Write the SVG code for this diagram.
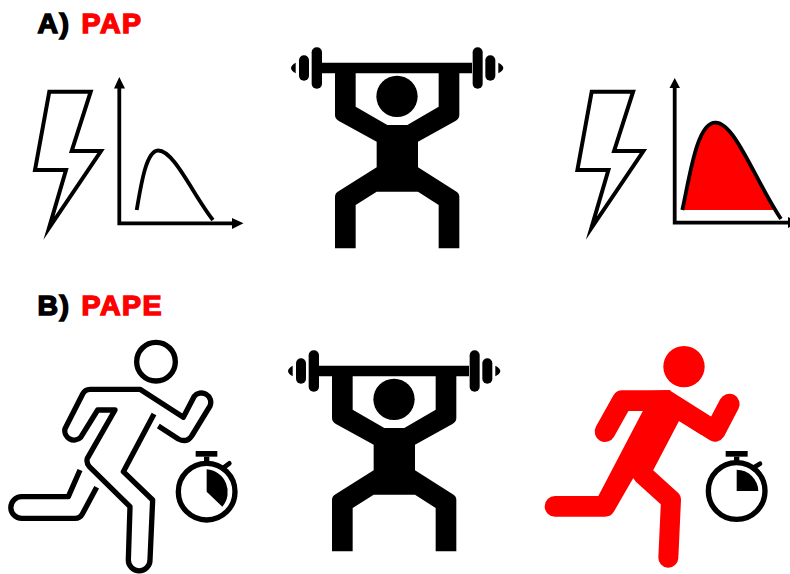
<svg xmlns="http://www.w3.org/2000/svg" xmlns:xlink="http://www.w3.org/1999/xlink" width="790" height="574" viewBox="0 0 790 574">
<style>
.lbl{font-family:"Liberation Sans",Arial,sans-serif;font-weight:700;font-size:28.5px;stroke-width:1.5px;letter-spacing:1.5px;fill:#000;stroke:#000}
.red{fill:#f00;stroke:#f00}
.ax{fill:none;stroke:#000;stroke-width:3.8}
.bolt{fill:#fff;stroke:#000;stroke-width:4;stroke-miterlimit:20}
.ol{fill:none;stroke:#000;stroke-width:16;stroke-linejoin:round;stroke-linecap:butt}
.rl{fill:none;stroke:#f00;stroke-linejoin:round;stroke-linecap:round}
</style>
<defs>
<g id="lifter">
<path d="M125,98H576V130H538V255Q538,267 525,274L414,335V412L525,482Q538,488 538,500V655H476V525L414,485H290L227,525V655H165V500Q165,488 178,482L290,412V335L178,274Q165,267 165,255V130H125ZM227,130V230L322,285H382L476,230V130Z" fill-rule="evenodd"/>
<circle cx="351" cy="199" r="62"/>
<rect x="95" y="52" width="31" height="124" rx="15"/>
<rect x="57" y="76" width="30" height="76" rx="15"/>
<path d="M47,98V130Q33,122 33,114Q33,106 47,98Z"/>
<rect x="578" y="52" width="30" height="124" rx="15"/>
<rect x="616" y="76" width="30" height="76" rx="15"/>
<path d="M655,98V130Q670,122 670,114Q670,106 655,98Z"/>
</g>
<path id="boltShape" class="bolt" d="M49.3,91.7H90.7L71.7,151H101L49,228L66,170H35Z"/>
</defs>
<text id="labelA" class="lbl" x="37.5" y="33">A) <tspan class="red" x="81.5">PAP</tspan></text>
<text id="labelB" class="lbl" x="37.5" y="315">B) <tspan class="red" x="81.5">PAPE</tspan></text>

<g id="pap-before">
<use href="#boltShape" xlink:href="#boltShape"/>
<path class="ax" d="M119.3,86V223.3H234"/>
<path d="M114,88.5L119.3,77L125,88.5ZM232,218L243.5,223.3L232,229Z"/>
<path class="ax" d="M136.7,210C141,185 146,151 158,150.5C174,150 193,195 213,220"/>
</g>
<g id="lifter-a" transform="translate(280,30) scale(.33333)"><use href="#lifter" xlink:href="#lifter"/></g>
<g id="pap-after">
<use href="#boltShape" xlink:href="#boltShape" transform="translate(542.4,0)"/>
<path class="ax" d="M674.7,86V222.7H790"/>
<path d="M669.5,88L674.7,78L680,88ZM788,217L800,222.7L788,228Z"/>
<path d="M682.3,210C690,175 697,122 715.7,122.7C733,123 755,178 775,210Z" fill="#f00"/>
<path class="ax" d="M682.3,210C690,175 697,122 715.7,122.7C735,123 755,180 781,219"/>
</g>

<g id="runner-outline" transform="translate(0,330) scale(.33333)">
<circle cx="468" cy="95" r="58" class="ol"/>
<path class="ol" d="M475,288L535,327Q560,340 575,318L630,228A28,28 0 0 0 582,200L550,262L420,178H270Q255,178 248,192L195,296A28,28 0 0 0 242,322L293,240H345L262,385Q258,398 268,410L390,530L385,690A32.5,32.5 0 0 0 450,690L458,510L370,425L462,252"/>
<path class="ol" d="M240,420L205,500H65A32.5,32.5 0 0 0 65,565H225Q240,565 247,552L290,472"/>
</g>
<g id="stopwatch-a" transform="translate(0,330) scale(.33333)">
<circle cx="620" cy="485" r="85" fill="none" stroke="#000" stroke-width="16"/>
<rect x="587" y="363" width="65" height="17"/>
<rect x="612" y="380" width="16" height="20"/>
<path d="M668,415L688,400" stroke="#000" stroke-width="14" stroke-linecap="round"/>
<path d="M620,418A68,68 0 0 1 667,530L620,485Z"/>
</g>
<g id="lifter-b" transform="translate(277,333) scale(.33333)"><use href="#lifter" xlink:href="#lifter"/></g>
<g id="runner-red" transform="translate(535,335) scale(.33333)">
<circle cx="447" cy="95" r="62" fill="#f00"/>
<path class="rl" stroke-width="62" d="M210,290L262,197H395L540,289L583,207"/>
<path d="M325,225L190,483L235,530L290,430L355,405L432,258L500,300L405,165L300,170Z" fill="#f00"/>
<path class="rl" stroke-width="62" d="M60,514H210L290,375"/>
<path class="rl" stroke-width="60" d="M322,417L408,495L400,668"/>
</g>
<g id="stopwatch-b" transform="translate(535,335) scale(.33333)">
<circle cx="605" cy="468" r="85" fill="none" stroke="#000" stroke-width="16"/>
<rect x="572" y="348" width="66" height="17"/>
<rect x="597" y="365" width="16" height="20"/>
<path d="M655,398L675,386" stroke="#000" stroke-width="14" stroke-linecap="round"/>
<path d="M605,404A66,66 0 0 1 670,468H605Z"/>
</g>
</svg>
